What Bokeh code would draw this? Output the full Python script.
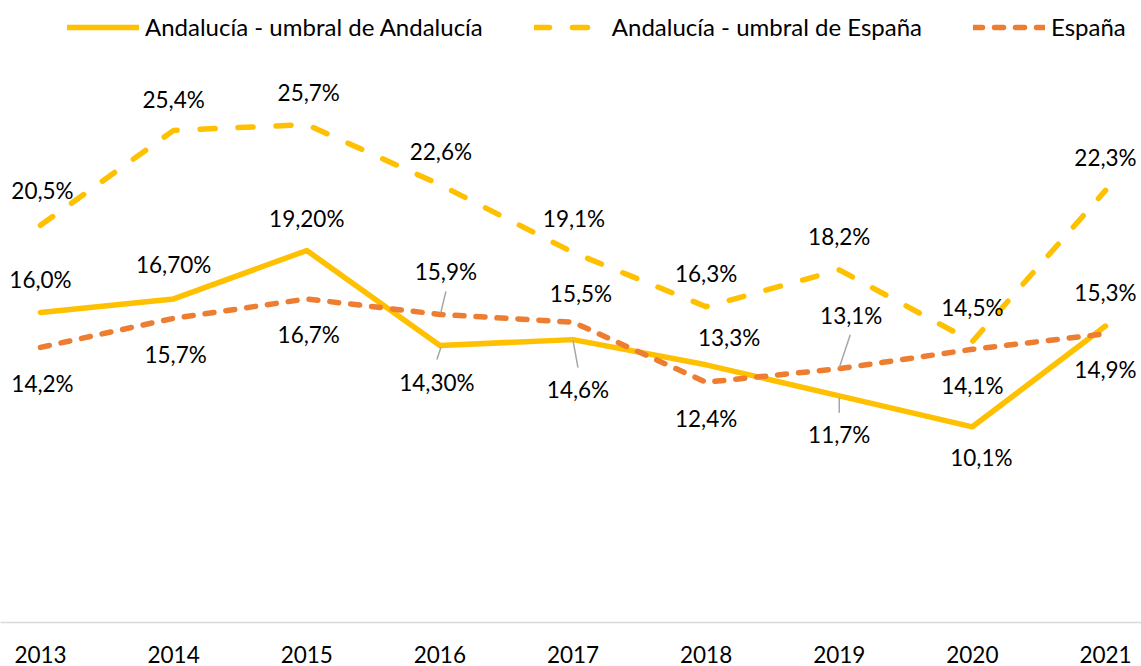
from bokeh.plotting import figure
from bokeh.models import ColumnDataSource, Range1d, FixedTicker, Legend, LegendItem
from bokeh.embed import file_html
from bokeh.resources import INLINE
from bokeh.core.properties import value

# ---------------- data ----------------
years = [2013, 2014, 2015, 2016, 2017, 2018, 2019, 2020, 2021]
andalucia_umbral_andalucia = [16.0, 16.7, 19.2, 14.3, 14.6, 13.3, 11.7, 10.1, 15.3]
andalucia_umbral_espana = [20.5, 25.4, 25.7, 22.6, 19.1, 16.3, 18.2, 14.5, 22.3]
espana = [14.2, 15.7, 16.7, 15.9, 15.5, 12.4, 13.1, 14.1, 14.9]
decimals_umbral_andalucia = [1, 2, 2, 2, 1, 1, 1, 1, 1]
decimals_umbral_espana = [1] * 9
decimals_espana = [1] * 9
series_names = ["Andalucía - umbral de Andalucía", "Andalucía - umbral de España", "España"]

# ---------------- layout / style ----------------
W, H = 1141, 666
BOTTOM = 44
FRAME_H = H - BOTTOM
X0, X1 = 2012.6995, 2021.2704
Y0, Y1 = 0, FRAME_H / 19.375
PX_X = W / (X1 - X0)
PX_Y = FRAME_H / (Y1 - Y0)

FONT = "Lato"
FSIZE = "22.5px"
LEG_FSIZE = "24px"
YELLOW = "#FFC000"
ORANGE = "#ED7D31"
LEADER = "#A6A6A6"

# data-label offsets in screen pixels (dx right, dy down)
lab_dx_solid = [0, 0, 0, -3, 5, 23, 0, 9, 0]
lab_dy_solid = [-33, -34, -32, 37, 50, -27, 39, 31, -34]
lab_dx_dash = [2, 0, 2, 1, 1, 0, 0, 0, 0]
lab_dy_dash = [-35, -31, -32, -33, -34, -33, -33, -34, -33]
lab_dx_esp = [2, 2, 2, 6, 8, 0, 12, 0, 0]
lab_dy_esp = [36, 36, 36, -43, -29, 36, -53, 36, 36]

# leader lines: (series key, index, start px offset, end px offset)
leaders = [
    ("esp", 3, (1, -2), (6, -23)),
    ("solid", 3, (1, 2), (-3, 14)),
    ("solid", 4, (0, 1), (5, 28)),
    ("esp", 6, (0, -1), (11, -34)),
    ("solid", 6, (0, 2), (0, 17)),
]


def fmt(v, d):
    return f"{v:.{d}f}%".replace(".", ",")


p = figure(width=W, height=H, output_backend="svg", toolbar_location=None,
           x_range=Range1d(X0, X1), y_range=Range1d(Y0, Y1),
           y_axis_location=None, min_border_left=0, min_border_right=0,
           min_border_top=0, min_border_bottom=BOTTOM)
p.outline_line_color = None
p.xgrid.visible = False
p.ygrid.visible = False
p.background_fill_color = "white"
p.border_fill_color = "white"

ax = p.xaxis[0]
ax.ticker = FixedTicker(ticks=years)
ax.axis_line_color = "#D9D9D9"
ax.axis_line_width = 1.5
ax.major_tick_line_color = None
ax.minor_tick_line_color = None
ax.major_tick_out = 0
ax.major_tick_in = 0
ax.major_label_text_font = FONT
ax.major_label_text_font_size = FSIZE
ax.major_label_text_color = "black"
ax.major_label_standoff = 23

src = ColumnDataSource(dict(x=years, a=andalucia_umbral_andalucia,
                            b=andalucia_umbral_espana, e=espana))

r_solid = p.line("x", "a", source=src, line_color=YELLOW, line_width=5.5,
                 line_join="round", line_cap="round")
r_dash = p.line("x", "b", source=src, line_color=YELLOW, line_width=5.5,
                line_dash="15 23", line_join="round", line_cap="round")
r_esp = p.line("x", "e", source=src, line_color=ORANGE, line_width=5.5,
               line_dash="9 12", line_join="round", line_cap="round")

series = {
    "solid": andalucia_umbral_andalucia,
    "dash": andalucia_umbral_espana,
    "esp": espana,
}

# leader lines
lx0, ly0, lx1, ly1 = [], [], [], []
for key, i, s, e in leaders:
    v = series[key][i]
    lx0.append(years[i] + s[0] / PX_X)
    ly0.append(v - s[1] / PX_Y)
    lx1.append(years[i] + e[0] / PX_X)
    ly1.append(v - e[1] / PX_Y)
p.segment(lx0, ly0, lx1, ly1, line_color=LEADER, line_width=1.5)

# data labels
for vals, decs, dxs, dys in [
    (andalucia_umbral_espana, decimals_umbral_espana, lab_dx_dash, lab_dy_dash),
    (andalucia_umbral_andalucia, decimals_umbral_andalucia, lab_dx_solid, lab_dy_solid),
    (espana, decimals_espana, lab_dx_esp, lab_dy_esp),
]:
    ls = ColumnDataSource(dict(x=years, y=vals,
                               t=[fmt(v, d) for v, d in zip(vals, decs)],
                               dx=dxs, dy=dys))
    p.text("x", "y", text="t", source=ls, x_offset="dx", y_offset="dy",
           text_align="center", text_baseline="middle",
           text_font=value(FONT), text_font_size=FSIZE, text_color="black")

legend = Legend(items=[LegendItem(label=series_names[0], renderers=[r_solid]),
                       LegendItem(label=series_names[1], renderers=[r_dash]),
                       LegendItem(label=series_names[2], renderers=[r_esp])],
                orientation="horizontal", location=(67, FRAME_H - 41.4),
                border_line_color=None, background_fill_alpha=0,
                padding=0, margin=0, spacing=51, glyph_width=72, glyph_height=20,
                label_standoff=6, label_text_font=FONT, label_text_font_size=LEG_FSIZE,
                label_text_color="black")
p.add_layout(legend)

open("out.html", "w").write(file_html(p, INLINE))
